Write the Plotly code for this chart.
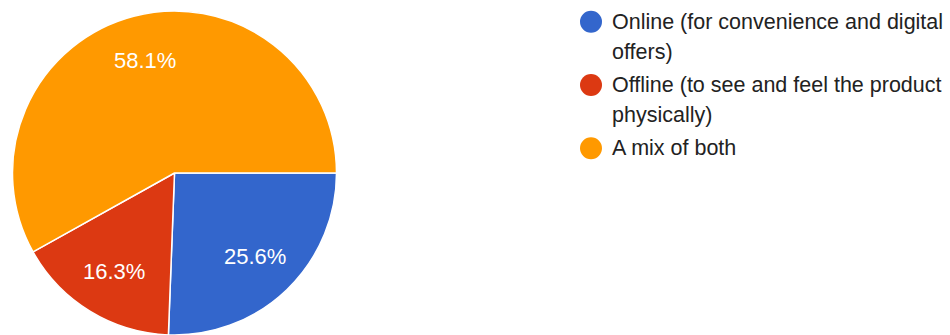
import math
import plotly.graph_objects as go

# Survey answers and their shares (percent)
labels = [
    "Online (for convenience and digital<br>offers)",
    "Offline (to see and feel the product<br>physically)",
    "A mix of both",
]
shares = [25.6, 16.3, 58.1]
colors = ["#3366cc", "#dc3912", "#ff9900"]

W, H = 950, 335

# Pie geometry in pixels
pie_x0, pie_x1 = 12.5, 336.5
pie_y1 = 324.0  # domain height from the bottom
R = (pie_x1 - pie_x0) / 2
cx = (pie_x0 + pie_x1) / 2
cy_top = H - pie_y1 / 2  # centre measured from the top edge
start_deg = 0.0  # first slice starts at 3 o'clock, running clockwise

fig = go.Figure(
    go.Pie(
        labels=labels,
        values=shares,
        sort=False,
        direction="clockwise",
        rotation=90,
        marker=dict(colors=colors, line=dict(color="white", width=1.5)),
        textinfo="none",
        hoverinfo="label+percent",
        showlegend=False,
        domain=dict(x=[pie_x0 / W, pie_x1 / W], y=[0, pie_y1 / H]),
    )
)

# Percentage labels along each slice's bisector
total = sum(shares)
acc = 0.0
for v in shares:
    mid = start_deg + (acc + v / 2) / total * 360
    acc += v
    r = 0.715 * R
    px = cx + r * math.cos(math.radians(mid))
    py = cy_top + r * math.sin(math.radians(mid))
    fig.add_annotation(
        text=f"{v:.1f}%",
        xref="paper", yref="paper",
        x=px / W, y=1 - py / H,
        xanchor="center", yanchor="middle",
        showarrow=False,
        font=dict(family="Liberation Sans, Arial, sans-serif", size=22, color="white"),
    )

# Custom legend: round swatches with wrapped labels
line_h = 30
item_gap = 3.3
y_px = 21.7
sw_cx, sw_r = 591, 11
for label, color in zip(labels, colors):
    lines = label.split("<br>")
    fig.add_shape(
        type="circle",
        xref="paper", yref="paper",
        x0=(sw_cx - sw_r) / W, x1=(sw_cx + sw_r) / W,
        y0=1 - (y_px + sw_r) / H, y1=1 - (y_px - sw_r) / H,
        fillcolor=color, line=dict(width=0),
    )
    for ln in lines:
        fig.add_annotation(
            text=ln,
            xref="paper", yref="paper",
            x=610 / W, y=1 - y_px / H,
            xanchor="left", yanchor="middle",
            showarrow=False,
            font=dict(family="Liberation Sans, Arial, sans-serif", size=21.5, color="#222222"),
        )
        y_px += line_h
    y_px += item_gap

fig.update_layout(
    width=W, height=H,
    margin=dict(l=0, r=0, t=0, b=0),
    paper_bgcolor="white",
    plot_bgcolor="white",
)

fig.write_html("out.html")
